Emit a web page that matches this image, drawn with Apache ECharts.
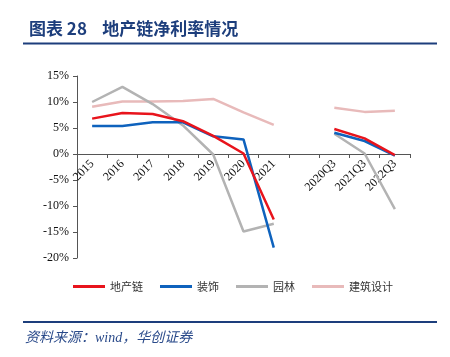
<!DOCTYPE html>
<html><head><meta charset="utf-8">
<script src="https://cdn.jsdelivr.net/npm/echarts@6/dist/echarts.min.js"></script>
<style>html,body{margin:0;padding:0;background:#fff}#c{width:450px;height:357px}</style>
</head><body><div id="c"></div>
<script>
const categories = ['2015','2016','2017','2018','2019','2020','2021','','2020Q3','2021Q3','2022Q3'];
const seriesNames = ['地产链','装饰','园林','建筑设计'];
const realEstateChain = [6.8, 7.9, 7.7, 6.3, 3.5, 0.1, -12.6, null, 4.8, 3.0, -0.2];
const decoration      = [5.4, 5.4, 6.1, 6.1, 3.4, 2.8, -18.0, null, 4.1, 2.5, -0.3];
const landscape       = [10.0, 12.9, 9.6, 5.5, -0.1, -14.9, -13.4, null, 3.9, 0.1, -10.6];
const archDesign      = [9.1, 10.1, 10.1, 10.2, 10.6, 8.0, 5.6, null, 8.9, 8.1, 8.3];
const yTicks = {min: -20, max: 15, interval: 5};
const titleText = '图表 28    地产链净利率情况';
const sourceText = '资料来源：wind，华创证券';

const colors = ['#e8141c', '#0e62bd', '#b3b3b3', '#e8baba'];
const dataList = [realEstateChain, decoration, landscape, archDesign];
const gridTop = 76, gridBottomY = 258;
const zeroOffset = -(gridBottomY - gridTop) * (0 - yTicks.min) / (yTicks.max - yTicks.min);
const chart = echarts.init(document.getElementById('c'), null, {renderer: 'canvas'});
chart.setOption({
  animation: false,
  color: colors,
  title: {
    text: titleText, left: 24, top: 15,
    textStyle: {fontFamily: 'Noto Sans CJK SC', fontWeight: 'bold', fontSize: 17, color: '#1d3e7c'}
  },
  grid: {left: 77, right: 40, top: gridTop, bottom: 357 - gridBottomY, containLabel: false},
  legend: {
    left: 68, top: 276, itemWidth: 32, itemHeight: 3, itemGap: 17, icon: 'rect',
    data: seriesNames,
    textStyle: {fontFamily: 'Noto Sans CJK SC', fontSize: 11, color: '#333'}
  },
  xAxis: {
    type: 'category', data: categories, boundaryGap: true,
    offset: zeroOffset,
    axisLine: {onZero: false, lineStyle: {color: '#555', width: 1}},
    axisTick: {show: true, interval: 0, length: 4, lineStyle: {color: '#555'}},
    axisLabel: {interval: 0, rotate: 45, fontFamily: 'Liberation Serif', fontSize: 12, color: '#111', margin: 8}
  },
  yAxis: {
    type: 'value', min: yTicks.min, max: yTicks.max, interval: yTicks.interval,
    splitLine: {show: false},
    axisLine: {show: true, lineStyle: {color: '#555', width: 1}},
    axisTick: {show: true, length: 4, lineStyle: {color: '#555'}},
    axisLabel: {formatter: '{value}%', fontFamily: 'Liberation Serif', fontSize: 12, color: '#111', margin: 8}
  },
  series: seriesNames.map((n, i) => ({
    name: n, type: 'line', data: dataList[i], symbol: 'none', connectNulls: false,
    lineStyle: {width: 2.5, color: colors[i]}, z: 10 - i
  })),
  graphic: [
    {type: 'line', shape: {x1: 23, y1: 43.5, x2: 437, y2: 43.5}, style: {stroke: '#1d3e7c', lineWidth: 2}},
    {type: 'line', shape: {x1: 23, y1: 322, x2: 437, y2: 322}, style: {stroke: '#1d3e7c', lineWidth: 2}},
    {type: 'text', left: 25, top: 331, style: {text: sourceText, font: 'italic 14px "Liberation Serif", "Noto Sans CJK SC"', fill: '#2a4a8a'}}
  ]
});
</script></body></html>
